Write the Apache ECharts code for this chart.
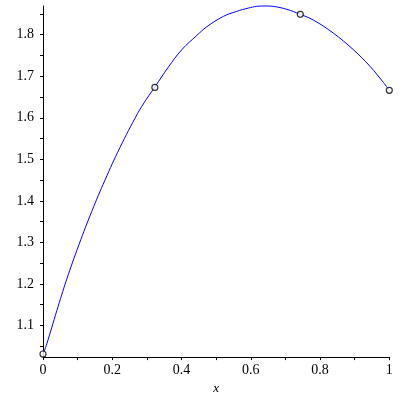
<!DOCTYPE html>
<html>
<head>
<meta charset="utf-8">
<script src="https://cdn.jsdelivr.net/npm/echarts@6/dist/echarts.min.js"></script>
<style>html,body{margin:0;padding:0;background:#fff}#c{width:400px;height:400px}</style>
</head>
<body>
<div id="c"></div>
<script>
// Curve samples
const curveX = [0, 0.011, 0.040, 0.068, 0.104, 0.141, 0.179, 0.222, 0.273, 0.299, 0.323, 0.362, 0.401, 0.444, 0.473, 0.521, 0.559, 0.593, 0.617, 0.641, 0.665, 0.704, 0.743, 0.781, 0.838, 0.896, 0.944, 0.983, 1.0];
const curveY = [1.030, 1.056, 1.136, 1.210, 1.295, 1.375, 1.450, 1.528, 1.610, 1.645, 1.674, 1.722, 1.764, 1.798, 1.819, 1.844, 1.856, 1.864, 1.868, 1.869, 1.868, 1.861, 1.849, 1.835, 1.804, 1.764, 1.724, 1.685, 1.666];
// Marked points
const pointX = [0, 0.323, 0.743, 1.0];
const pointY = [1.0315, 1.673, 1.849, 1.666];
// Axis ticks
const yTickLabels = [1.1, 1.2, 1.3, 1.4, 1.5, 1.6, 1.7, 1.8];
const yTickMarks = [1.05, 1.1, 1.15, 1.2, 1.25, 1.3, 1.35, 1.4, 1.45, 1.5, 1.55, 1.6, 1.65, 1.7, 1.75, 1.8, 1.85];
const xTickLabels = [0, 0.2, 0.4, 0.6, 0.8, 1];
const xTickMarks = [0, 0.1, 0.2, 0.3, 0.4, 0.5, 0.6, 0.7, 0.8, 0.9, 1];
const yMin = 1.024, yMax = 1.869;

const font = '"Liberation Serif", "Times New Roman", "DejaVu Serif", serif';
const chart = echarts.init(document.getElementById('c'), null, {renderer: 'canvas'});
chart.setOption({
  animation: false,
  backgroundColor: '#fff',
  grid: {left: 43, right: 10.7, top: 6, bottom: 40, containLabel: false},
  xAxis: {
    type: 'value', min: 0, max: 1,
    name: 'x', nameLocation: 'middle', nameGap: 24,
    nameTextStyle: {fontFamily: font, fontStyle: 'italic', fontSize: 13, color: '#000'},
    axisLine: {onZero: false, lineStyle: {color: '#000', width: 1}},
    axisTick: {show: true, inside: false, length: 3, customValues: xTickMarks, lineStyle: {color: '#000'}},
    axisLabel: {customValues: xTickLabels, margin: 6, fontFamily: font, fontSize: 14, color: '#000',
      formatter: v => String(v)},
    splitLine: {show: false}
  },
  yAxis: {
    type: 'value', min: yMin, max: yMax,
    axisLine: {show: true, onZero: false, lineStyle: {color: '#000', width: 1}},
    axisTick: {show: true, inside: false, length: 3, customValues: yTickMarks, lineStyle: {color: '#000'}},
    axisLabel: {customValues: yTickLabels, margin: 9, fontFamily: font, fontSize: 14, color: '#000',
      formatter: v => v.toFixed(1)},
    splitLine: {show: false}
  },
  series: [
    {
      type: 'line', data: curveX.map((x, i) => [x, curveY[i]]),
      smooth: 0.4, showSymbol: false, clip: false,
      lineStyle: {color: '#0000ff', width: 1}
    },
    {
      type: 'scatter', data: pointX.map((x, i) => [x, pointY[i]]),
      symbol: 'circle', symbolSize: 6, clip: false, z: 5,
      itemStyle: {color: '#fff', borderColor: '#000', borderWidth: 1.2}
    }
  ]
});
</script>
</body>
</html>
